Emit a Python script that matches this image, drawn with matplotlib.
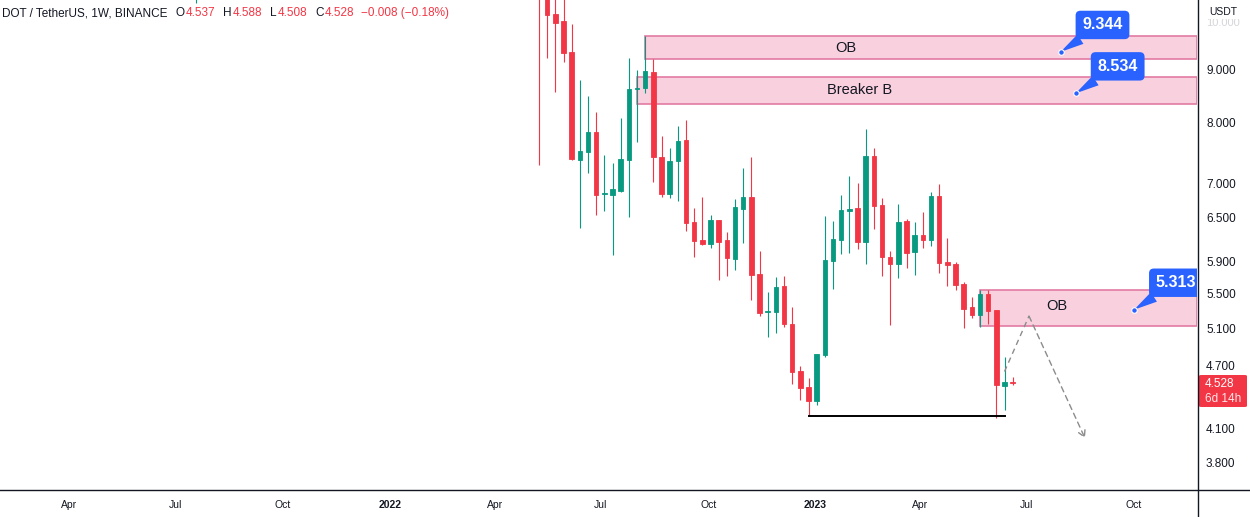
import matplotlib.pyplot as plt
import matplotlib.dates as mdates
import pandas as pd
from matplotlib.patches import Rectangle, FancyBboxPatch
from matplotlib.lines import Line2D
from matplotlib.ticker import NullLocator

W, H, DPI = 1250, 517, 100
plt.rcParams['font.family'] = ['Liberation Sans', 'DejaVu Sans']

GREEN, RED, BLUE, INK = '#089981', '#F23645', '#2962FF', '#131722'
ZONE_FC, ZONE_EC = '#F9D0DD', '#E27AA3'

# weekly DOT/USDT candles (one 2021 week peeks in at the top edge)
weeks = ['2021-07-19'] + [d.strftime('%Y-%m-%d') for d in pd.date_range('2022-05-09', periods=59, freq='7D')]
opens = [11.60, 11.30, 10.55, 10.15, 10.00, 9.34, 7.38, 7.51, 7.84, 6.85, 6.83,
         6.89, 7.38, 8.61, 8.63, 8.94, 7.42, 6.85, 7.36, 7.70, 6.44, 6.19,
         6.14, 6.47, 6.19, 5.94, 6.62, 6.80, 5.75, 5.285, 5.29, 5.60, 5.15,
         4.65, 4.49, 4.35, 4.81, 5.91, 6.19, 6.60, 6.64, 6.16, 7.44, 6.68,
         5.96, 5.87, 6.45, 6.03, 6.26, 6.19, 6.82, 5.90, 5.87, 5.62, 5.35,
         5.25, 5.50, 5.31, 4.50, 4.537]
highs = [13.90, 11.60, 10.90, 10.60, 10.60, 9.93, 8.79, 8.48, 8.19, 7.46, 7.33,
         8.08, 9.22, 8.98, 9.67, 9.20, 7.77, 7.57, 7.94, 8.05, 6.64, 6.80,
         6.54, 6.47, 6.30, 6.77, 7.25, 7.42, 6.04, 5.52, 5.71, 5.72, 5.35,
         4.70, 4.58, 4.82, 6.52, 6.45, 6.83, 7.12, 7.01, 7.89, 7.57, 6.79,
         6.04, 6.70, 6.48, 6.44, 6.58, 6.88, 7.00, 6.22, 5.90, 5.65, 5.46,
         5.55, 5.55, 5.31, 4.79, 4.588]
lows = [10.40, 7.29, 9.22, 8.56, 9.14, 7.38, 6.36, 7.17, 6.54, 6.60, 5.99,
        6.88, 6.51, 7.67, 8.54, 7.03, 6.80, 6.79, 6.74, 6.31, 5.96, 6.12,
        6.08, 5.67, 5.72, 5.80, 6.15, 5.43, 5.24, 5.00, 5.05, 5.12, 4.52,
        4.36, 4.21, 4.31, 4.79, 5.56, 6.00, 6.02, 6.07, 5.87, 6.34, 5.72,
        5.14, 5.70, 5.82, 5.73, 6.08, 6.11, 5.76, 5.60, 5.55, 5.11, 5.22,
        5.12, 5.15, 4.19, 4.27, 4.508]
closes = [13.40, 10.55, 10.13, 9.95, 9.32, 7.39, 7.52, 7.84, 6.83, 6.86, 6.92,
          7.39, 8.61, 8.63, 8.96, 7.42, 6.85, 7.36, 7.69, 6.43, 6.18, 6.14,
          6.47, 6.16, 5.95, 6.65, 6.80, 5.73, 5.28, 5.295, 5.59, 5.15, 4.64,
          4.48, 4.35, 4.82, 5.93, 6.20, 6.61, 6.62, 6.16, 7.44, 6.67, 5.96,
          5.87, 6.44, 6.02, 6.26, 6.19, 6.82, 5.89, 5.86, 5.61, 5.32, 5.25,
          5.50, 5.30, 4.51, 4.537, 4.528]

# zones: (label, start week, bottom, top, label date, label price)
zones = [('OB', '2022-08-08', 9.20, 9.67, '2023-01-27', 9.42),
         ('Breaker B', '2022-08-01', 8.34, 8.84, '2023-02-08', 8.60),
         ('OB', '2023-05-22', 5.13, 5.55, '2023-07-27', 5.36)]
callouts = [(9.344, '2023-07-30'), (8.534, '2023-08-12'), (5.313, '2023-10-01')]
support = (['2022-12-26', '2023-06-12'], 4.21)
path_dates = ['2023-06-12', '2023-07-03', '2023-08-20']
path_prices = [4.64, 5.24, 4.01]

yticks = [3.8, 4.1, 4.7, 5.1, 5.5, 5.9, 6.5, 7.0, 8.0, 9.0]
xticks = ['2021-04-01', '2021-07-01', '2021-10-01', '2022-01-01', '2022-04-01', '2022-07-01',
          '2022-10-01', '2023-01-01', '2023-04-01', '2023-07-01', '2023-10-01']
xlabels = ['Apr', 'Jul', 'Oct', '2022', 'Apr', 'Jul', 'Oct', '2023', 'Apr', 'Jul', 'Oct']

d = lambda s: mdates.date2num(pd.Timestamp(s))

fig = plt.figure(figsize=(W / DPI, H / DPI), dpi=DPI, facecolor='white')
ax = fig.add_axes([0, 27 / H, 1197 / W, 490 / H])
ax.set_yscale('log')
x0, x1 = d('2021-02-01'), d('2023-11-24')
ax.set_xlim(x0, x1)
ax.set_ylim(3.58, 10.47)

# candles
xs = [d(w) for w in weeks]
cols = [GREEN if c >= o else RED for o, c in zip(opens, closes)]
ax.vlines(xs, lows, highs, colors=cols, linewidth=0.8, zorder=3)
ax.bar(xs, [abs(c - o) for o, c in zip(opens, closes)], bottom=[min(o, c) for o, c in zip(opens, closes)],
       width=3.8, color=cols, edgecolor=cols, linewidth=0.6, zorder=4)

# zones
for name, start, lo, hi, ld, lp in zones:
    ax.add_patch(Rectangle((d(start), lo), x1 - d(start), hi - lo, fc=ZONE_FC, ec=ZONE_EC, lw=1.2, zorder=2))
    ax.text(d(ld), lp, name, fontsize=10.5, color=INK, ha='center', va='center', zorder=5)

# support line and projected path
ax.plot([d(s) for s in support[0]], [support[1]] * 2, color='black', lw=1.4, zorder=5)
pd_x = [d(s) for s in path_dates]
ax.plot(pd_x[:2], path_prices[:2], color='#8C8C8C', lw=1, ls=(0, (4, 3)), zorder=5)
ax.annotate('', xy=(pd_x[2], path_prices[2]), xytext=(pd_x[1], path_prices[1]),
            arrowprops=dict(arrowstyle='->,head_length=0.45,head_width=0.25', color='#8C8C8C', lw=1,
                            ls=(0, (4, 3)), shrinkA=0, shrinkB=0), zorder=5)

# price callouts
for val, pt in callouts:
    ann = ax.annotate(f'{val:.3f}', xy=(d(pt), val), xytext=(42, 27), textcoords='offset pixels',
                      ha='center', va='center', color='white', fontsize=11.5, fontweight='bold',
                      bbox=dict(boxstyle='round,pad=0.42,rounding_size=0.3', fc=BLUE, ec='none'),
                      arrowprops=dict(arrowstyle='wedge,tail_width=0.7,shrink_factor=0.5', fc=BLUE, ec='none',
                                      shrinkA=0, shrinkB=0), zorder=7)
    ann.set_clip_box(ax.bbox)
    ann.set_clip_on(True)
    ax.plot(d(pt), val, 'o', ms=4, mfc=BLUE, mec='white', mew=0.8, zorder=8)

# axes styling
for s in ax.spines.values():
    s.set_visible(False)
ax.yaxis.tick_right()
ax.yaxis.set_minor_locator(NullLocator())
ax.set_yticks(yticks)
ax.set_yticklabels([f'{v:.3f}' for v in yticks])
ax.set_xticks([d(s) for s in xticks])
ax.set_xticklabels(xlabels)
for lab in ax.get_xticklabels():
    if lab.get_text().isdigit():
        lab.set_fontweight('bold')
ax.tick_params(axis='y', length=0, pad=6.5, labelsize=8.5, labelcolor=INK)
ax.tick_params(axis='x', length=0, pad=7, labelsize=7.5, labelcolor=INK)

fig.add_artist(Line2D([0, 1], [1 - 490 / H] * 2, transform=fig.transFigure, color=INK, lw=1))
fig.add_artist(Line2D([1197.5 / W] * 2, [0, 1], transform=fig.transFigure, color=INK, lw=1))

# header legend, chained left to right: (text, colour, gap before in px)
px = lambda x: x / W
py = lambda y: 1 - y / H
header = [('DOT / TetherUS, 1W, BINANCE', INK, 0), ('O', INK, 8), ('4.537', RED, 1),
          ('H', INK, 8), ('4.588', RED, 1), ('L', INK, 8), ('4.508', RED, 1),
          ('C', INK, 8), ('4.528', RED, 1), ('\u22120.008 (\u22120.18%)', RED, 7)]
renderer = fig.canvas.get_renderer()
cur = 2
for s, c, gap in header:
    cur += gap
    t = fig.text(px(cur), py(13), s, color=c, fontsize=8.5, ha='left', va='center')
    cur = t.get_window_extent(renderer).x1

# right scale extras
fig.text(px(1206), py(23), '10.000', color='#D5D6DA', fontsize=8, ha='left', va='center')
fig.text(px(1209), py(12), 'USDT', color=INK, fontsize=7.5, ha='left', va='center',
         bbox=dict(fc='white', ec='none', pad=1.5))
fig.add_artist(FancyBboxPatch((px(1199), py(407)), px(48), 32 / H, boxstyle='round,pad=0,rounding_size=0.002',
                              transform=fig.transFigure, fc=RED, ec='none'))
fig.text(px(1205), py(384), '4.528', color='white', fontsize=8.5, ha='left', va='center')
fig.text(px(1205), py(399), '6d 14h', color='#FFE5E8', fontsize=8.5, ha='left', va='center')

fig.savefig('out.png', dpi=DPI)
